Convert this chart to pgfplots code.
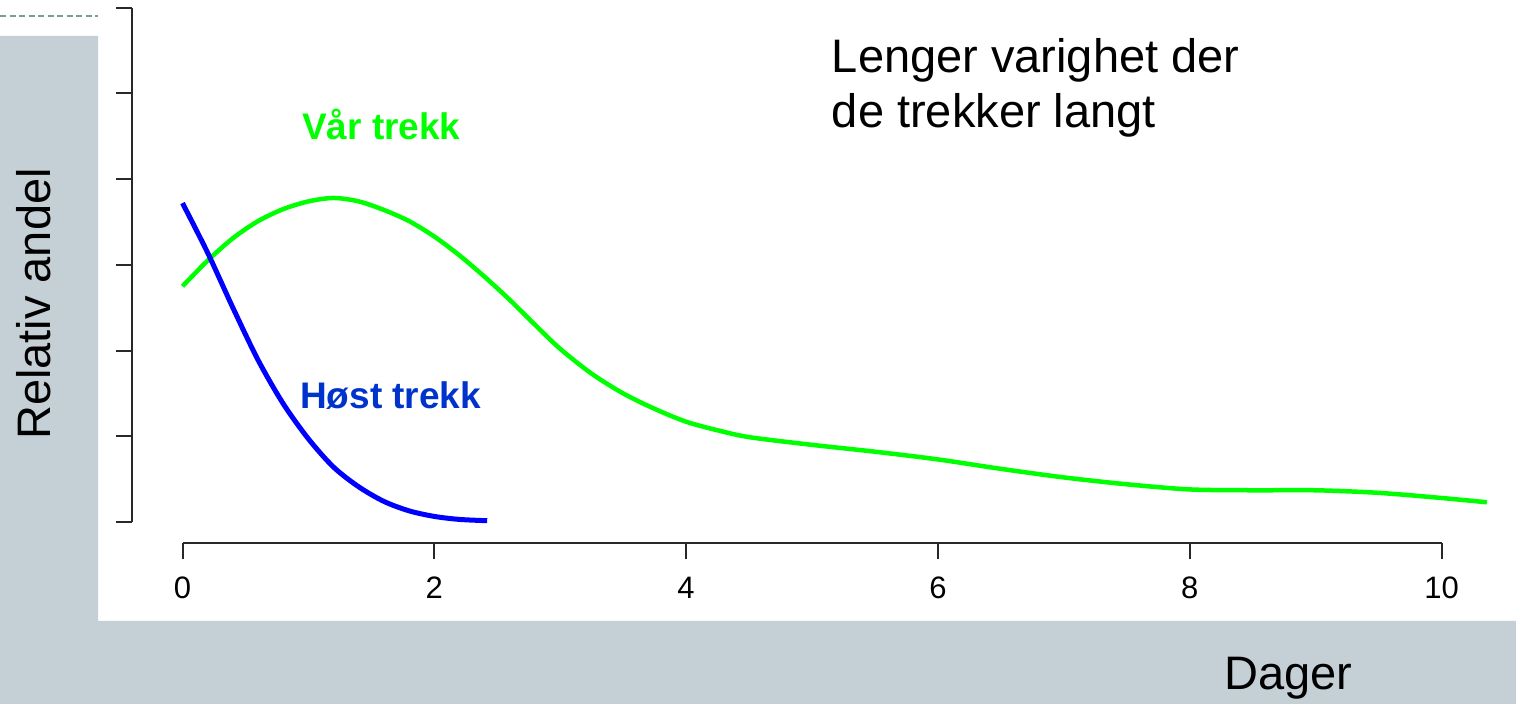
\documentclass[border=0pt]{standalone}
\usepackage{fontspec}
\setmainfont{Liberation Sans}
\usepackage{pgfplots}
\pgfplotsset{compat=1.18}
\definecolor{bgslate}{RGB}{197,208,214}
\definecolor{dashc}{RGB}{125,155,155}
\definecolor{rgreen}{RGB}{0,255,0}
\definecolor{rblue}{RGB}{0,0,255}
\definecolor{tblue}{RGB}{0,51,204}
\definecolor{axc}{RGB}{40,40,40}
\begin{document}
\begin{tikzpicture}[x=1pt,y=1pt]
\path[use as bounding box, fill=white] (0,0) rectangle (1516,704);
\fill[bgslate] (0,0) -- (1516,0) -- (1516,83) -- (98,83) -- (98,668) -- (0,668) -- cycle;
\draw[dashc, line width=2pt, dash pattern=on 6pt off 3.5pt] (0,688.3) -- (98,688.3);
\begin{axis}[
  at={(132.14pt,160.57pt)}, anchor=south west,
  scale only axis, width=1372.31pt, height=535.75pt,
  xmin=-0.4, xmax=10.5, ymin=-0.25, ymax=6,
  axis x line*=bottom, axis y line*=left,
  axis line style={draw=none},
  xtick={0,2,4,6,8,10}, ytick={0,1,2,3,4,5,6}, yticklabels={},
  tick align=outside, major tick length=16pt,
  tick style={axc, line width=2pt},
  ticklabel style={font=\fontsize{31}{31}\selectfont},
  xticklabel style={yshift=-14pt},
  /pgf/number format/assume math mode=true,
  clip=false,
]
\draw[axc, line width=2pt] (axis cs:0,-0.25) -- (axis cs:10,-0.25);
\draw[axc, line width=2pt] (axis cs:-0.4,0) -- (axis cs:-0.4,6);
\addplot[rgreen, line width=4.5pt, smooth] coordinates {
(0,2.75) (0.2,3.05) (0.4,3.31) (0.6,3.51) (0.8,3.65) (1.0,3.74) (1.2,3.78)
(1.4,3.74) (1.6,3.64) (1.8,3.51) (2.0,3.33) (2.2,3.11) (2.4,2.86) (2.6,2.59)
(2.8,2.30) (3.0,2.02) (3.25,1.73) (3.5,1.50) (3.75,1.32) (4.0,1.17) (4.25,1.07)
(4.5,0.99) (5.0,0.90) (5.5,0.82) (6.0,0.73) (6.5,0.62) (7.0,0.52) (7.5,0.44)
(8.0,0.38) (8.5,0.37) (9.0,0.37) (9.5,0.34) (10.0,0.28) (10.36,0.23)
};
\addplot[rblue, line width=5pt, smooth] coordinates {
(0,3.72) (0.2,3.14) (0.4,2.50) (0.6,1.89) (0.8,1.38) (1.0,0.97) (1.2,0.64)
(1.4,0.41) (1.6,0.24) (1.8,0.13) (2.0,0.065) (2.2,0.03) (2.42,0.015)
};
\end{axis}
\node[anchor=base west, inner sep=0, text=rgreen, font=\fontsize{37}{37}\selectfont\bfseries] at (302,564) {Vår trekk};
\node[anchor=base west, inner sep=0, text=tblue, font=\fontsize{37}{37}\selectfont\bfseries] at (300,295) {Høst trekk};
\node[anchor=base west, inner sep=0, font=\fontsize{47}{47}\selectfont] at (831.7,631.3) {Lenger varighet der};
\node[anchor=base west, inner sep=0, font=\fontsize{47}{47}\selectfont] at (831.7,576) {de trekker langt};
\node[anchor=base west, inner sep=0, font=\fontsize{47}{47}\selectfont] at (1224,14) {Dager};
\node[anchor=base west, inner sep=0, rotate=90, font=\fontsize{47}{47}\selectfont] at (50,264) {Relativ andel};
\end{tikzpicture}
\end{document}
